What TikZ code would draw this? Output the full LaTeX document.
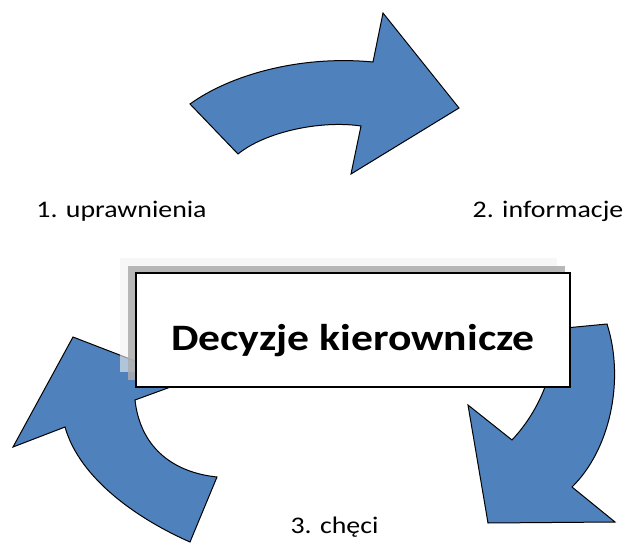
\documentclass[tikz,border=0pt]{standalone}
\usepackage{fontspec}
\setmainfont{Carlito}[FakeStretch=1.17]
\usepackage{tikz}
\definecolor{strzalka}{HTML}{4F81BD}

\begin{document}
\begin{tikzpicture}[x=1pt,y=-1pt,
	arrowfill/.style={draw=black,line width=1pt,fill=strzalka,line join=miter},
	napis/.style={font=\fontsize{23.8}{28}\selectfont,anchor=base}]
			\useasboundingbox (0,0) rectangle (627,543);
			% strzalki
			\draw[arrowfill] (190,104) .. controls (230,75) and (300,55) .. (373,62) -- (383,13) -- (459,108) -- (351,174) -- (361,126) .. controls (320,120) and (265,132) .. (238,154) -- cycle;
			\draw[arrowfill] (555,329) -- (607,324) .. controls (625,380) and (610,450) .. (572,487) -- (615,522) -- (488,523) -- (468,405) -- (512,440) .. controls (540,410) and (556,370) .. (555,329) -- cycle;
			\draw[arrowfill] (190,542) .. controls (140,520) and (80,480) .. (65,427) -- (13,447) -- (73,337) -- (187,381) -- (135,400) .. controls (140,445) and (170,472) .. (217,477) -- cycle;
			% cien
			\fill[gray!10,fill opacity=0.6] (120,258) rectangle (557,372);
			\fill[gray!65,fill opacity=0.85] (128,266) rectangle (565,380);
			\node[draw=black,line width=1.4pt,fill=white,minimum width=434pt,minimum height=114pt,inner sep=0pt] (kadr) at (353,330) {};
			\node[anchor=base,font=\fontsize{37.3}{44}\selectfont\bfseries] (decyzje) at ([yshift=-20pt]kadr.center) {Decyzje kierownicze};
			\node[napis] (upr) at (121.5,217) {1. uprawnienia};
			\node[napis] (inf) at (548,217) {2. informacje};
			\node[napis] (checi) at (334.5,533) {3. chęci};
\end{tikzpicture}
\end{document}
